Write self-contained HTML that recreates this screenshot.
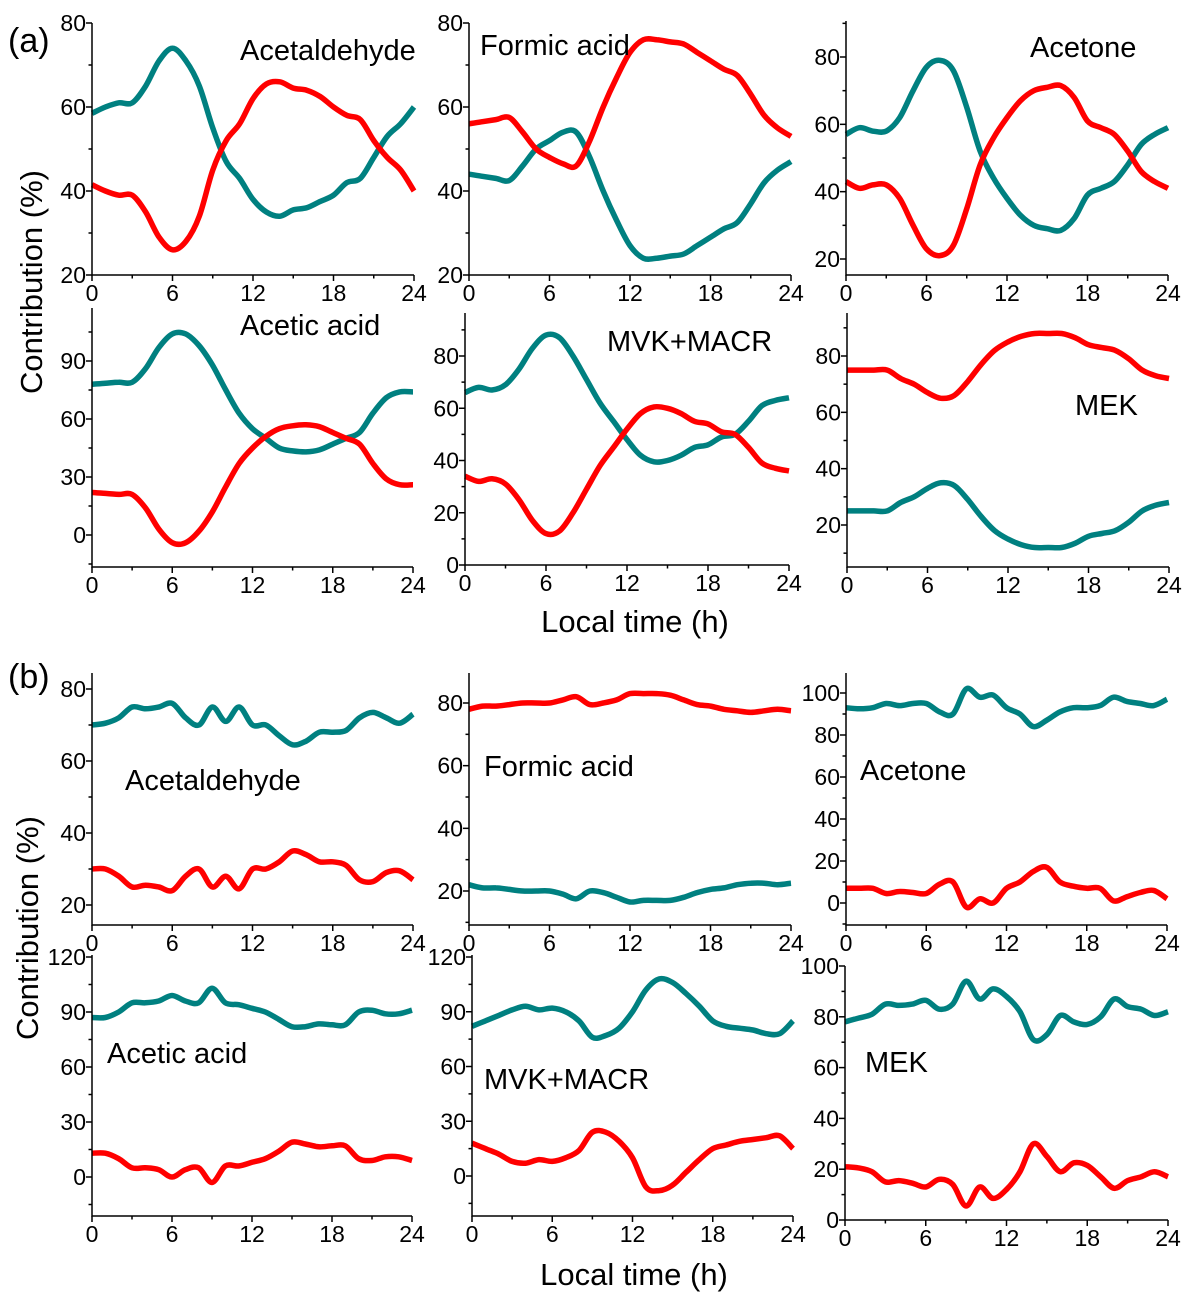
<!DOCTYPE html>
<html><head><meta charset="utf-8"><style>
html,body{margin:0;padding:0;background:#fff;}
svg{display:block;font-family:"Liberation Sans",Arial,sans-serif;}
</style></head><body>
<svg id="fig" width="1195" height="1303" viewBox="0 0 1195 1303" xmlns="http://www.w3.org/2000/svg">
<text x="8" y="52" font-size="34">(a)</text>
<text x="8" y="688" font-size="34">(b)</text>
<text transform="translate(42,282) rotate(-90)" text-anchor="middle" font-size="31">Contribution (%)</text>
<text transform="translate(38,928) rotate(-90)" text-anchor="middle" font-size="31">Contribution  (%)</text>
<text x="635" y="632" text-anchor="middle" font-size="31">Local time (h)</text>
<text x="634" y="1285" text-anchor="middle" font-size="31">Local time (h)</text>
</svg>
<script>
const hours = [0,1,2,3,4,5,6,7,8,9,10,11,12,13,14,15,16,17,18,19,20,21,22,23,24];
const xTicks = [0,6,12,18,24];

const acetA_teal = [58.5,60,61,61,65,71,74,71,65,55,47,43,38,35,34,35.5,36,37.5,39,42,43,48,53,56,60];
const acetA_red = [41.5,40,39,39,35,29,26,28,34,45,52,56,62,65.5,66,64.5,64,62.5,60,58,57,52,48,45,40];
const formA_teal = [44,43.5,43,42.5,46,50,52,54,54,48,40,33,27,24,24,24.5,25,27,29,31,32.5,37,42,45,47];
const formA_red = [56,56.5,57,57.5,54,50,48,46.5,46,52,60,67,73,76,76,75.5,75,73,71,69,67.5,63,58,55,53];
const acetoneA_teal = [57,59,58,58,62,70,77,79,76,65,52,44,38,33,30,29,28.5,32,39,41,43,48,54,57,59];
const acetoneA_red = [43,41,42,42,38,30,23,21,24,35,48,56,62,67,70,71,71.5,68,61,59,57,52,46,43,41];
const aceticA_teal = [78,78.5,79,79,86,97,104,104,98,88,75,63,55,50,45,43.5,43,44,47,50,53,63,71,74,74];
const aceticA_red = [22,21.5,21,21,14,3,-4,-4,2,12,25,37,45,51,55,56.5,57,56,53,50,47,37,29,26,26];
const mvkA_teal = [66,68,67,69,75,83,88,87,80,71,62,55,48,42,39.5,40,42,45,46,49,50,55,61,63,64];
const mvkA_red = [34,32,33,31,25,17,12,13,20,29,38,45,52,58,60.5,60,58,55,54,51,50,45,39,37,36];
const mekA_red = [75,75,75,75,72,70,67,65,66,71,77,82,85,87,88,88,88,86.5,84,83,82,79,75,73,72];
const mekA_teal = [25,25,25,25,28,30,33,35,34,29,23,18,15,13,12,12,12,13.5,16,17,18,21,25,27,28];

const acetB_teal = [70,70.5,72,75,74.5,75,76,72,70,75,71,75,70,70,67,64.5,65.5,68,68,68.5,72,73.5,72,70.5,73];
const acetB_red = [30,30,28,25,25.5,25,24,28,30,25,28,24.5,30,30,32,35,34,32,32,31,27,26.5,29,29.5,27];
const formB_red = [78,79,79,79.5,80,80,80,81,82,79.5,80,81,83,83,83,82.5,81,79.5,79,78,77.5,77,77.5,78,77.5];
const formB_teal = [22,21,21,20.5,20,20,20,19,17.5,20,19.5,18,16.5,17,17,17,18,19.5,20.5,21,22,22.5,22.5,22,22.5];
const acetoneB_teal = [93,92.5,93,95,94,95,95,91,90,102,98,99,93,90,84,87,91,93,93,94,98,96,95,94,97];
const acetoneB_red = [7,7,7,4.5,5.5,5,4.5,9,10,-2,2,0,7,10,15,17,10,8,7,7,1,3,5,6,2];
const aceticB_teal = [87,87,90,95,95,96,99,96,95,103,95,94,92,90,86,82,82,83.5,83,83,90,91,89,89,91];
const aceticB_red = [13,13,10,5,5,4,0,4,5,-3,6,6,8,10,14,19,18,16.5,17,17,10,9,11,11,9];
const mvkB_teal = [82,85,88,91,93,91,92,90,85,76,77,81,90,102,108,106,100,93,85,82,81,80,78,78,85];
const mvkB_red = [18,15,12,8,7,9,8,10,14,24,24,19,10,-6,-8,-5,2,9,15,17,19,20,21,22,15];
const mekB_teal = [78,79.5,81,85,84.5,85,86.5,83,85,94,87,91,88,82,71,73,80.5,78,77,80,87,84,83,80.5,82];
const mekB_red = [21,20.5,19,15,15.5,14.5,13,16,14,5.5,13,8.5,12,19,30,25,19,22.5,21.5,17,12.5,15.5,17,19,17];

const yTicks1 = [20,40,60,80];
const yTicks2 = [0,30,60,90];
const yTicks3 = [0,20,40,60,80];
const yTicks4 = [0,20,40,60,80,100];
const yTicks5 = [0,30,60,90,120];

const panels = [
 {n:'acetaldehyde-a',t:'Acetaldehyde',tx:240,ty:50,x0:92,x1:414,va:80,pa:23,vb:20,pb:275,top:23,bot:275,ticks:yTicks1,minor:10,s:[acetA_teal,acetA_red]},
 {n:'formic-acid-a',t:'Formic acid',tx:480,ty:45,x0:469,x1:791,va:80,pa:23,vb:20,pb:275,top:23,bot:275,ticks:yTicks1,minor:10,s:[formA_teal,formA_red]},
 {n:'acetone-a',t:'Acetone',tx:1030,ty:47,x0:846,x1:1168,va:80,pa:57,vb:20,pb:259,top:21,bot:275,ticks:yTicks1,minor:10,s:[acetoneA_teal,acetoneA_red]},
 {n:'acetic-acid-a',t:'Acetic acid',tx:240,ty:325,x0:92,x1:413,va:90,pa:361,vb:0,pb:535,top:308,bot:567,ticks:yTicks2,minor:15,s:[aceticA_teal,aceticA_red]},
 {n:'mvk-macr-a',t:'MVK+MACR',tx:607,ty:341,x0:465,x1:789,va:80,pa:356,vb:0,pb:565,top:313,bot:565,ticks:yTicks3,minor:10,s:[mvkA_teal,mvkA_red]},
 {n:'mek-a',t:'MEK',tx:1075,ty:405,x0:847,x1:1169,va:80,pa:356,vb:20,pb:525,top:313,bot:567,ticks:yTicks1,minor:10,s:[mekA_teal,mekA_red]},
 {n:'acetaldehyde-b',t:'Acetaldehyde',tx:125,ty:780,x0:92,x1:413,va:80,pa:689,vb:20,pb:905,top:673,bot:925,ticks:yTicks1,minor:10,s:[acetB_teal,acetB_red]},
 {n:'formic-acid-b',t:'Formic acid',tx:484,ty:766,x0:469,x1:791,va:80,pa:703,vb:20,pb:891,top:673,bot:925,ticks:yTicks1,minor:10,s:[formB_teal,formB_red]},
 {n:'acetone-b',t:'Acetone',tx:860,ty:770,x0:846,x1:1167,va:100,pa:693,vb:0,pb:903,top:673,bot:925,ticks:yTicks4,minor:10,s:[acetoneB_teal,acetoneB_red]},
 {n:'acetic-acid-b',t:'Acetic acid',tx:107,ty:1053,x0:92,x1:412,va:120,pa:957,vb:0,pb:1177,top:955,bot:1216,ticks:yTicks5,minor:15,s:[aceticB_teal,aceticB_red]},
 {n:'mvk-macr-b',t:'MVK+MACR',tx:484,ty:1079,x0:472,x1:793,va:120,pa:957,vb:0,pb:1176,top:955,bot:1216,ticks:yTicks5,minor:15,s:[mvkB_teal,mvkB_red]},
 {n:'mek-b',t:'MEK',tx:865,ty:1062,x0:845,x1:1168,va:100,pa:966,vb:0,pb:1220,top:966,bot:1220,ticks:yTicks4,minor:10,s:[mekB_teal,mekB_red]}
];
const colors = ['#008080','#ff0000'];
const seriesNames = ['teal-series','red-series'];
const NS = 'http://www.w3.org/2000/svg';
const svg = document.getElementById('fig');
function mk(tag, attrs, parent){const e=document.createElementNS(NS,tag);for(const k in attrs)e.setAttribute(k,attrs[k]);(parent||svg).appendChild(e);return e;}
function smooth(pts){
  let d='M'+pts[0][0].toFixed(1)+','+pts[0][1].toFixed(1);
  for(let i=0;i<pts.length-1;i++){
    const p0=pts[Math.max(0,i-1)],p1=pts[i],p2=pts[i+1],p3=pts[Math.min(pts.length-1,i+2)];
    const c1=[p1[0]+(p2[0]-p0[0])/6,p1[1]+(p2[1]-p0[1])/6];
    const c2=[p2[0]-(p3[0]-p1[0])/6,p2[1]-(p3[1]-p1[1])/6];
    d+=' C'+c1[0].toFixed(1)+','+c1[1].toFixed(1)+' '+c2[0].toFixed(1)+','+c2[1].toFixed(1)+' '+p2[0].toFixed(1)+','+p2[1].toFixed(1);
  }
  return d;
}
panels.forEach(p=>{
  const g=mk('g',{});
  
  
  const xs=h=>p.x0+(p.x1-p.x0)*h/24;
  const ys=v=>p.pa+(v-p.va)*(p.pb-p.pa)/(p.vb-p.va);
  p.s.forEach((arr,k)=>{
    const pts=hours.map((h,i)=>[xs(h),ys(arr[i])]);
    const path=mk('path',{d:smooth(pts),fill:'none',stroke:colors[k],'stroke-width':5.5,'stroke-linejoin':'round'},g);
    
    
  });
  const ax=mk('path',{d:'M'+p.x0+','+p.top+' V'+p.bot+' H'+p.x1,fill:'none',stroke:'#000','stroke-width':1.5},g);
  
  
  for(let h=0;h<=24;h+=3){
    const major=h%6===0;
    mk('line',{x1:xs(h),x2:xs(h),y1:p.bot,y2:p.bot+(major?6:3.5),stroke:'#000','stroke-width':1.5},g);
  }
  xTicks.forEach(h=>{
    const t=mk('text',{x:xs(h),y:p.bot+26,'text-anchor':'middle','font-size':23},g);
    t.textContent=h;
    
    
  });
  const vmin=p.ticks[0],vmax=p.ticks[p.ticks.length-1];
  for(let v=vmin-p.minor*3;v<=vmax+p.minor*3;v+=p.minor){
    const y=ys(v); if(y<p.top-0.5||y>p.bot+0.5) continue;
    const major=p.ticks.indexOf(v)>=0;
    mk('line',{x1:p.x0-(major?6:3.5),x2:p.x0,y1:y,y2:y,stroke:'#000','stroke-width':1.5},g);
  }
  p.ticks.forEach(v=>{
    const t=mk('text',{x:p.x0-6,y:ys(v)+8,'text-anchor':'end','font-size':23},g);
    t.textContent=v;
    
    
  });
  const tt=mk('text',{x:p.tx,y:p.ty+10,'font-size':29},g);
  tt.textContent=p.t;
  
  
});
</script>
</body></html>
